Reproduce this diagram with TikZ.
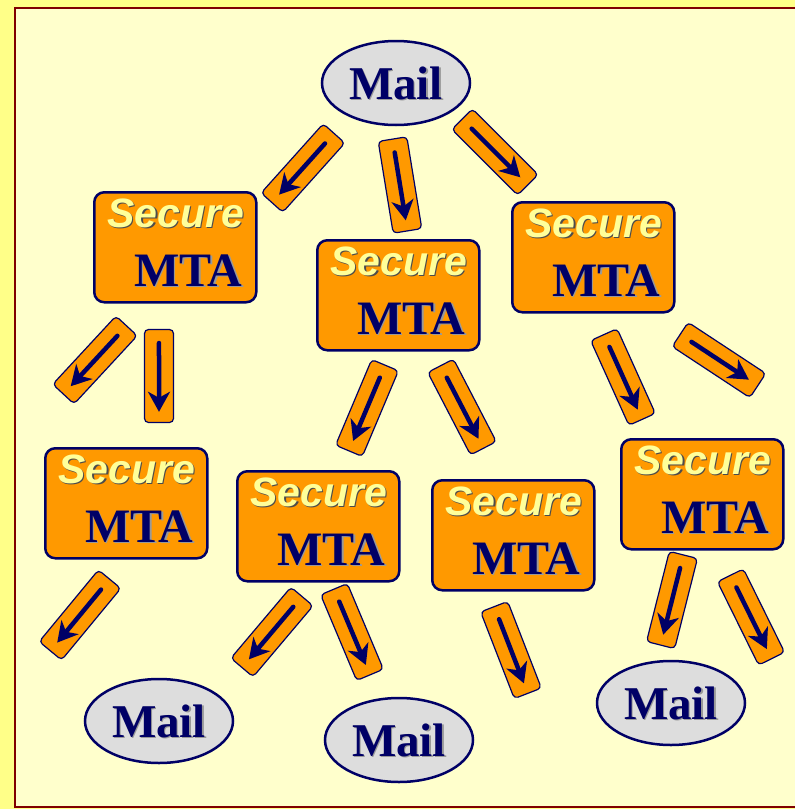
\documentclass[tikz,border=0pt]{standalone}
\usepackage{fontspec}
\setmainfont{Liberation Serif}
\newfontfamily\arialf{Liberation Sans}
\usetikzlibrary{shapes.geometric,arrows.meta,calc}
\definecolor{outerY}{HTML}{FFFF88}
\definecolor{innerY}{HTML}{FFFFCC}
\definecolor{frameR}{HTML}{800000}
\definecolor{navy}{HTML}{000066}
\definecolor{orng}{HTML}{FF9900}
\definecolor{mailgray}{HTML}{DDDDDD}
\definecolor{secY}{HTML}{FFFF99}
\newcommand\shadowed[3]{\rlap{\kern#3\raisebox{-#3}{\textcolor{#2}{#1}}}#1}
\tikzset{
  mailbox/.style={ellipse, draw=navy, fill=mailgray, line width=2.5pt, minimum width=148pt, minimum height=84pt, inner sep=0pt},
  mailtxt/.style={text=navy, font=\fontsize{47}{50}\selectfont\bfseries, inner sep=0pt, anchor=base},
  mtabox/.style={rectangle, rounded corners=10pt, draw=navy, fill=orng, line width=2.5pt, minimum width=162pt, minimum height=110pt, inner sep=0pt, anchor=north west},
  sectxt/.style={text=secY, font=\fontsize{41}{44}\selectfont\arialf\bfseries\itshape, inner sep=0pt, anchor=base west},
  mtatxt/.style={text=navy, font=\fontsize{48}{50}\selectfont\bfseries, inner sep=0pt, anchor=base west},
  arrbox/.style={rectangle, rounded corners=4pt, draw=navy, fill=orng, line width=1.2pt, minimum width=93pt, minimum height=29pt, inner sep=0pt},
  arr/.style={draw=navy, line width=4.5pt, line cap=round, -{Stealth[length=20pt,width=22pt,inset=6pt]}}
}
\newcommand\mailnode[3]{%
  \node[mailbox] (#1) at (#2,#3) {};
  \node[mailtxt] (#1t) at ($(#1.center)+(0,16)$) {\shadowed{Mail}{black!40}{1.5pt}};
}
\newcommand\mtanode[3]{%
  \node[mtabox] (#1) at (#2,#3) {};
  \node[sectxt] (#1s) at ($(#1.north west)+(14,36)$) {\shadowed{Secure}{black!70}{1.5pt}};
  \node[mtatxt] (#1m) at ($(#1.north west)+(41,95)$) {\shadowed{MTA}{black!40}{1.5pt}};
}
\newcommand\arrnode[5]{%
  \node[arrbox, rotate={atan2(-(#5),#4)}] (#1) at (#2,#3) {};
  \draw[arr] ($(#1.center)!0.7!(#1.west)$) -- ($(#1.center)!0.76!(#1.east)$);
}
\begin{document}
\begin{tikzpicture}[x=1pt,y=-1pt]
\useasboundingbox (0,0) rectangle (795,809);
\fill[outerY] (0,0) rectangle (795,809);
\fill[innerY] (15,8) rectangle (800,807);
\draw[frameR, line width=2pt] (800,8) -- (15,8) -- (15,807) -- (800,807);
% mails
\mailnode{m1}{396}{83}
\mailnode{m2}{159}{721}
\mailnode{m3}{399}{740}
\mailnode{m4}{671}{703}
% MTA boxes
\mtanode{b1}{93}{191}
\mtanode{b2}{316}{239}
\mtanode{b3}{511}{201}
\mtanode{b4}{44}{447}
\mtanode{b5}{236}{470}
\mtanode{b6}{431}{479}
\mtanode{b7}{620}{438}
% arrow boxes
\arrnode{a1}{303}{168}{-61}{68}
\arrnode{a2}{400}{185}{15}{92}
\arrnode{a3}{495}{152}{68}{68}
\arrnode{a4}{95}{360}{-63}{68}
\arrnode{a5}{159}{376}{0.01}{96}
\arrnode{a6}{367}{408}{-35}{83}
\arrnode{a7}{462}{407}{42}{81}
\arrnode{a8}{623}{377}{37}{82}
\arrnode{a9}{719}{360}{79}{52}
\arrnode{a10}{80}{615}{-57}{69}
\arrnode{a11}{272}{632}{-60}{71}
\arrnode{a12}{352}{632}{37}{88}
\arrnode{a13}{511}{650}{33}{85}
\arrnode{a14}{672}{600}{-22}{87}
\arrnode{a15}{751}{617}{41}{83}
\end{tikzpicture}
\end{document}
